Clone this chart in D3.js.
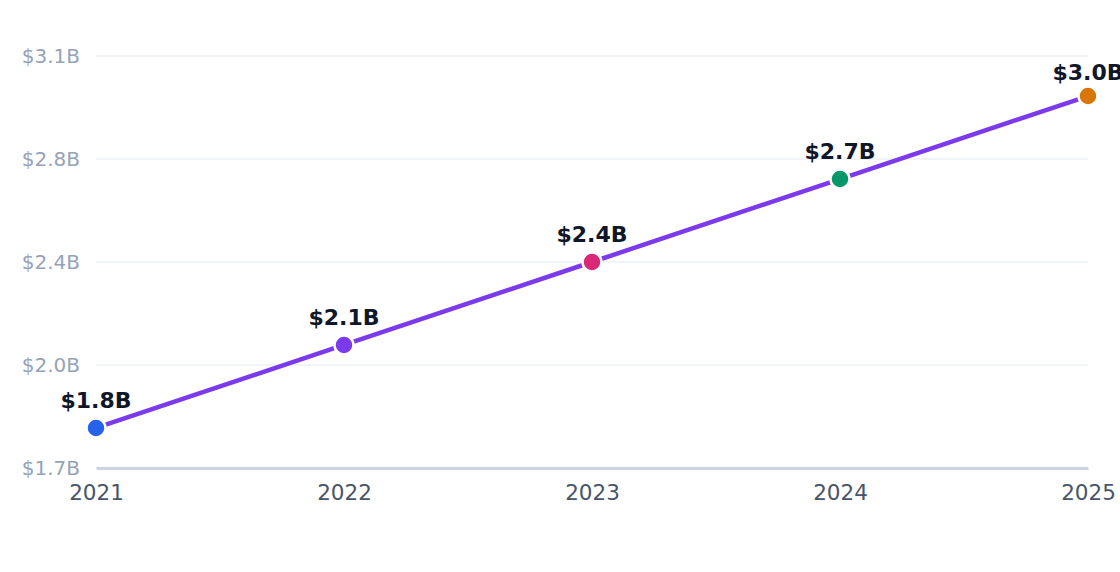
<!DOCTYPE html>
<html>
<head>
<meta charset="utf-8">
<script src="https://cdn.jsdelivr.net/npm/d3@7"></script>
<style>
  html, body { margin: 0; padding: 0; background: #fff; }
  svg { display: block; font-family: "DejaVu Sans", sans-serif; }
</style>
</head>
<body>
<script>
// revenue by year
const years = ['2021', '2022', '2023', '2024', '2025'];
const revenue = [1.836, 2.118, 2.40, 2.682, 2.964];
const pointLabels = ['$1.8B', '$2.1B', '$2.4B', '$2.7B', '$3.0B'];
const pointColors = ['#2563eb', '#7c3aed', '#db2777', '#059669', '#d97706'];
const yTicks = [1.7, 2.05, 2.4, 2.75, 3.1];
const yDomain = [1.7, 3.1];

const svgWidth = 1120;
const svgHeight = 572;
const plotLeft = 96, plotRight = 1088, plotTop = 56, plotBottom = 468;

const x = d3.scalePoint().domain(years).range([plotLeft, plotRight]);
const y = d3.scaleLinear().domain(yDomain).range([plotBottom, plotTop]);

const svg = d3.select('body')
  .append('svg')
  .attr('width', svgWidth)
  .attr('height', svgHeight);

// gridlines
svg.append('g')
  .selectAll('line')
  .data(yTicks.slice(1))
  .enter()
  .append('line')
  .attr('x1', plotLeft)
  .attr('x2', plotRight)
  .attr('y1', d => y(d))
  .attr('y2', d => y(d))
  .attr('stroke', '#f1f5f9')
  .attr('stroke-width', 2);

// y axis labels
const yAxis = d3.axisLeft(y)
  .tickValues(yTicks)
  .tickSize(0)
  .tickPadding(16)
  .tickFormat(d => '$' + d.toFixed(1) + 'B');

svg.append('g')
  .attr('transform', `translate(${plotLeft},0)`)
  .call(yAxis)
  .call(g => g.select('.domain').remove())
  .call(g => g.selectAll('text')
    .attr('fill', '#94a3b8')
    .style('font-size', '20px')
    .style('font-family', '"DejaVu Sans", sans-serif'));

// x axis
const xAxis = d3.axisBottom(x).tickSize(0).tickPadding(17);
svg.append('g')
  .attr('transform', `translate(0,${plotBottom})`)
  .call(xAxis)
  .call(g => g.select('.domain')
    .attr('stroke', '#cbd5e1')
    .attr('stroke-width', 3))
  .call(g => g.selectAll('text')
    .attr('fill', '#475569')
    .style('font-size', '21.5px')
    .style('font-family', '"DejaVu Sans", sans-serif'));

// the line
const line = d3.line()
  .x((d, i) => x(years[i]))
  .y(d => y(d));

svg.append('path')
  .datum(revenue)
  .attr('d', line)
  .attr('fill', 'none')
  .attr('stroke', '#7c3aed')
  .attr('stroke-width', 4.5)
  .attr('stroke-linecap', 'round');

// dots
svg.selectAll('circle')
  .data(revenue)
  .enter()
  .append('circle')
  .attr('cx', (d, i) => x(years[i]))
  .attr('cy', d => y(d))
  .attr('r', 9.5)
  .attr('fill', (d, i) => pointColors[i])
  .attr('stroke', '#fff')
  .attr('stroke-width', 2.5);

// value labels (kept from running into the top edge)
svg.selectAll('.val')
  .data(revenue)
  .enter()
  .append('text')
  .attr('class', 'val')
  .attr('x', (d, i) => x(years[i]))
  .attr('y', d => Math.max(y(d) - 20, plotTop + 24))
  .attr('text-anchor', 'middle')
  .attr('fill', '#0f172a')
  .style('font-size', '22px')
  .style('font-weight', 'bold')
  .text((d, i) => pointLabels[i]);
</script>
</body>
</html>
